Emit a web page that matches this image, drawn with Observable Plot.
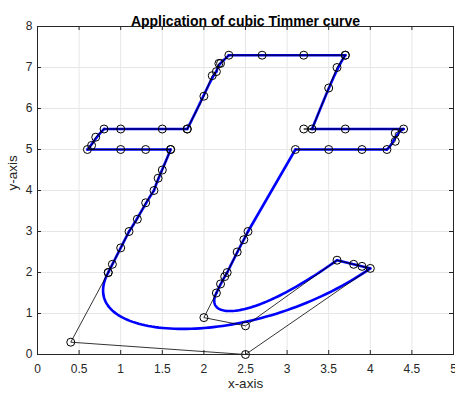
<!DOCTYPE html>
<html>
<head>
<meta charset="utf-8">
<script src="https://cdn.jsdelivr.net/npm/d3@7"></script>
<script src="https://cdn.jsdelivr.net/npm/@observablehq/plot@0.6"></script>
<style>
  html, body { margin: 0; padding: 0; background: #fff; }
  #chart svg { display: block; }
</style>
</head>
<body>
<div id="chart"></div>
<script>
// ---- Data: control points of the cubic (Timmer) segments ----
// Each stroke is a chain of cubic segments: 3n+1 points, consecutive segments share endpoints.
const stemLeft = [[0.85,2.0],[0.9,2.2],[1.0,2.6],[1.1,3.0],[1.2,3.3],[1.3,3.7],[1.4,4.0],[1.45,4.3],[1.5,4.5],[1.6,5.0]];
const barLower = [[1.6,5.0],[1.3,5.0],[1.0,5.0],[0.6,5.0],[0.65,5.1],[0.7,5.3],[0.8,5.5],[1.0,5.5],[1.5,5.5],[1.8,5.5]];
const riseTop = [[1.8,5.5],[2.0,6.3],[2.1,6.8],[2.15,6.9],[2.18,7.1],[2.2,7.1],[2.3,7.3],[2.7,7.3],[3.2,7.3],[3.7,7.3]];
const descentRight = [[3.7,7.3],[3.6,7.0],[3.5,6.5],[3.3,5.5],[3.2,5.5],[3.7,5.5],[4.4,5.5],[4.3,5.4],[4.3,5.2],[4.2,5.0],[3.9,5.0],[3.5,5.0],[3.1,5.0]];
const diagonal = [[3.1,5.0],[2.53,3.0]]; // plain straight piece, no control polygon drawn
const stemInner = [[2.53,3.0],[2.48,2.8],[2.4,2.5],[2.28,2.0],[2.25,1.9],[2.2,1.72],[2.15,1.5],[2.0,0.9],[2.5,0.7],[3.6,2.3],[3.8,2.2],[3.9,2.15],[4.0,2.1],[2.5,0.0],[0.4,0.3],[0.85,2.0]];

const cubicStrokes = [stemLeft, barLower, riseTop, descentRight, stemInner];
const xTicks = [0, 0.5, 1, 1.5, 2, 2.5, 3, 3.5, 4, 4.5, 5];
const yTicks = [0, 1, 2, 3, 4, 5, 6, 7, 8];
const titleText = "Application of cubic Timmer curve";
const xLabel = "x-axis";
const yLabel = "y-axis";

// ---- Build curve samples from the control points ----
function cubicAt(p, t) {
  const u = 1 - t;
  const a = u*u*u, b = 3*u*u*t, c = 3*u*t*t, d = t*t*t;
  return [a*p[0][0] + b*p[1][0] + c*p[2][0] + d*p[3][0],
          a*p[0][1] + b*p[1][1] + c*p[2][1] + d*p[3][1]];
}
const curvePts = [];
const polyPts = [];
cubicStrokes.forEach((stroke, si) => {
  for (let k = 0; k + 3 < stroke.length; k += 3) {
    const seg = stroke.slice(k, k + 4);
    for (const t of d3.range(0, 1.0001, 1/80)) {
      const [x, y] = cubicAt(seg, t);
      curvePts.push({x, y, s: "c" + si + "_" + k});
    }
  }
  stroke.forEach(([x, y]) => polyPts.push({x, y, s: "p" + si}));
});
diagonal.forEach(([x, y]) => curvePts.push({x, y, s: "diag"}));

const frameW = 455 - 37 - 2;
const frameH = 396 - 26 - 42;
const axisColor = "#262626";

const chart = Plot.plot({
  width: 455,
  height: 396,
  marginLeft: 37,
  marginRight: 2,
  marginTop: 26,
  marginBottom: 42,
  style: {fontFamily: "'Liberation Sans', Arial, sans-serif", background: "#fff", overflow: "visible"},
  x: {domain: [0, 5], ticks: xTicks, label: null},
  y: {domain: [0, 8], ticks: yTicks, label: null},
  marks: [
    Plot.gridX(xTicks, {stroke: "#e6e6e6", strokeOpacity: 1}),
    Plot.gridY(yTicks, {stroke: "#e6e6e6", strokeOpacity: 1}),
    Plot.line(curvePts, {x: "x", y: "y", z: "s", stroke: "#0000ff", strokeWidth: 2.6, curve: "linear"}),
    Plot.line(polyPts, {x: "x", y: "y", z: "s", stroke: "#000", strokeWidth: 0.8}),
    Plot.dot(polyPts, {x: "x", y: "y", r: 4, stroke: "#000", strokeWidth: 1, fill: "none"}),
    Plot.frame({stroke: axisColor, strokeWidth: 1}),
    Plot.ruleX(xTicks, {stroke: axisColor, insetTop: frameH - 4}),
    Plot.ruleX(xTicks, {stroke: axisColor, insetBottom: frameH - 4}),
    Plot.ruleY(yTicks, {stroke: axisColor, insetRight: frameW - 4}),
    Plot.ruleY(yTicks, {stroke: axisColor, insetLeft: frameW - 4}),
    Plot.axisX({ticks: xTicks, tickSize: 0, tickPadding: 10, fontSize: 12, color: axisColor, label: null, tickFormat: d => String(d)}),
    Plot.axisY({ticks: yTicks, tickSize: 0, tickPadding: 5, fontSize: 12, color: axisColor, label: null, tickFormat: d => String(d)}),
    Plot.text([titleText], {frameAnchor: "top", dy: -10.5, fontSize: 14, fontWeight: "bold", fill: "#000"}),
    Plot.text([xLabel], {frameAnchor: "bottom", dy: 33.7, fontSize: 13.5, fill: axisColor}),
    Plot.text([yLabel], {frameAnchor: "left", dx: -25, rotate: -90, fontSize: 13.5, fill: axisColor})
  ]
});
document.getElementById("chart").appendChild(chart);
</script>
</body>
</html>
